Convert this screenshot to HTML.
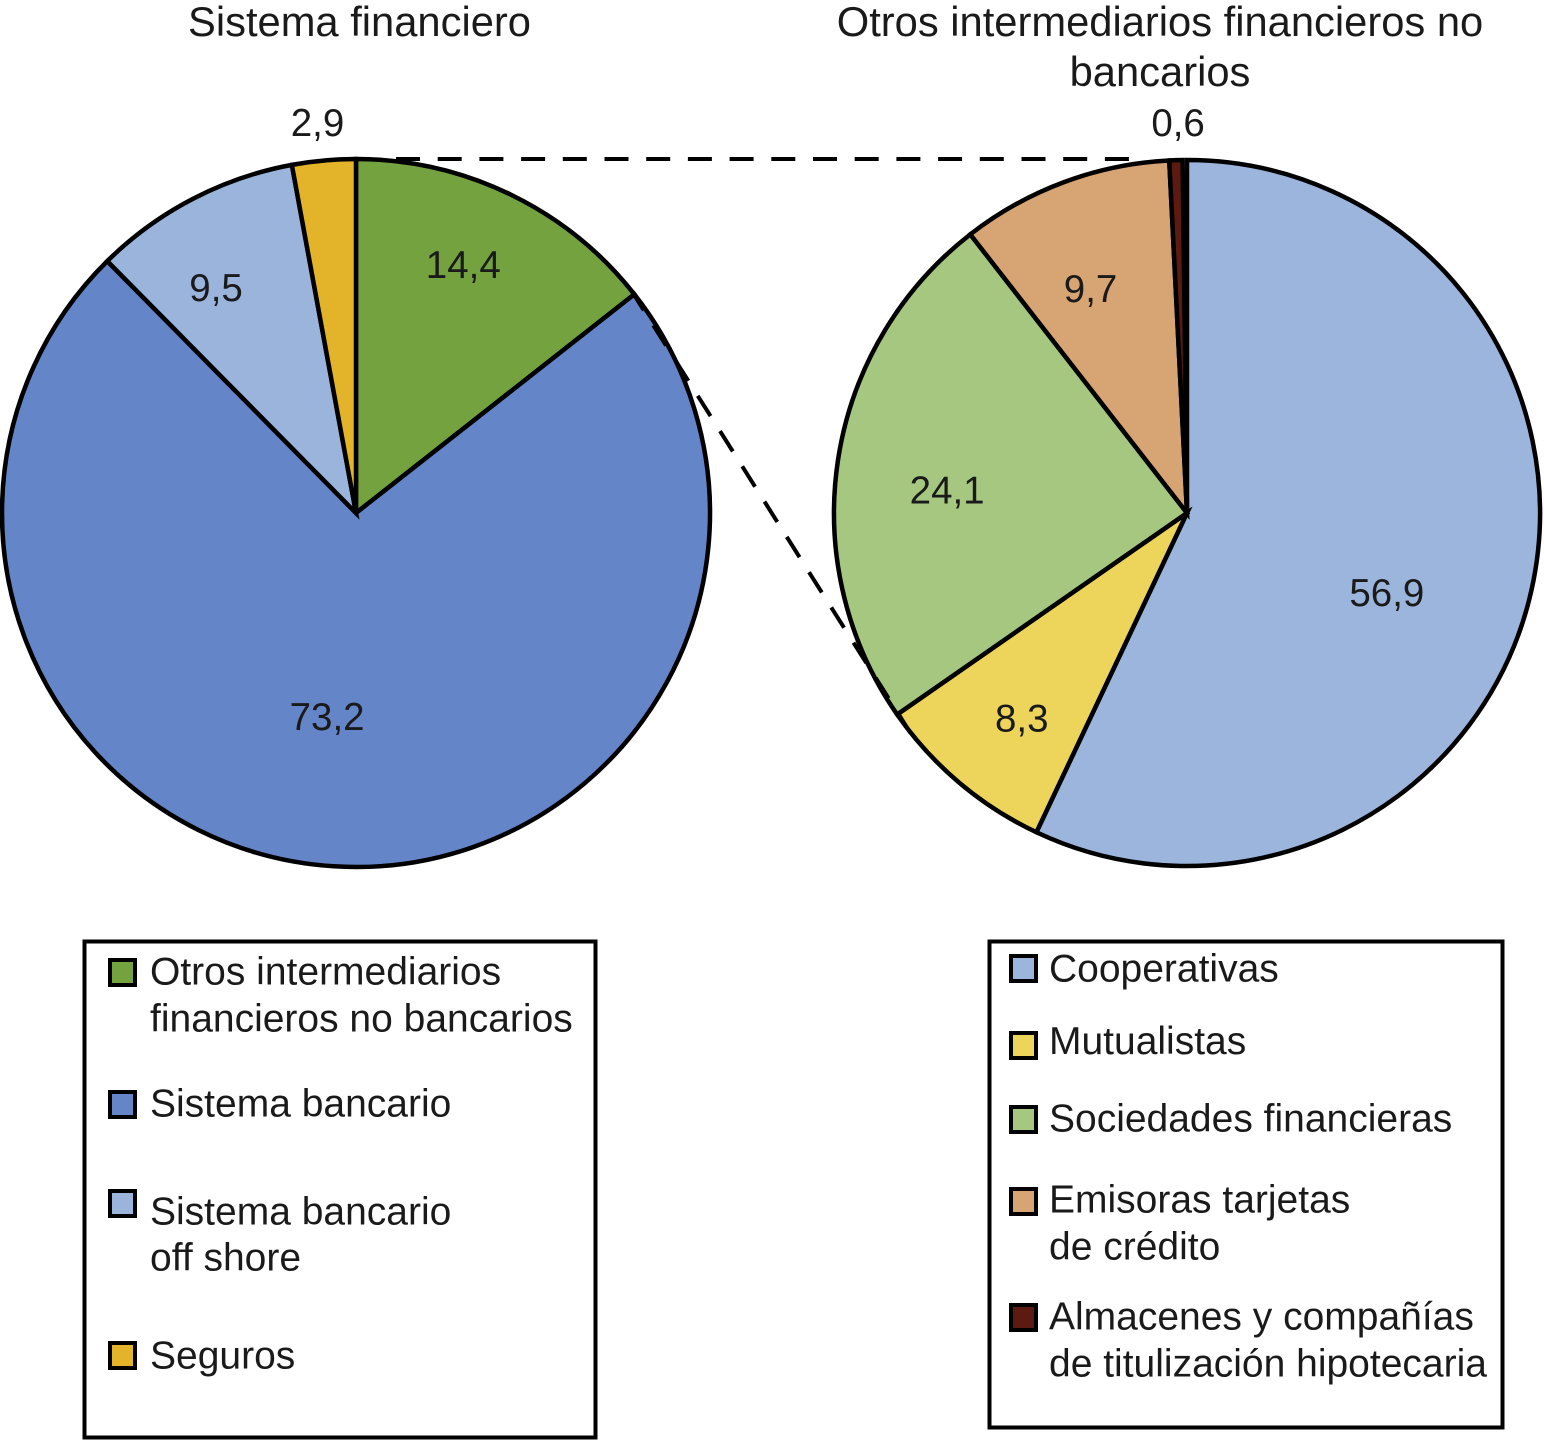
<!DOCTYPE html>
<html lang="es">
<head>
<meta charset="utf-8">
<title>Sistema financiero</title>
<style>
html,body{margin:0;padding:0;background:#fff;}
svg{display:block;}
text{font-family:"Liberation Sans",Arial,sans-serif;fill:#1a1a1a;font-size:39px;}
text.title{font-size:41.7px;}
text.value{font-size:38.5px;}
.legend-box{fill:#fff;stroke:#000;stroke-width:4;}
.swatch{stroke:#000;stroke-width:4;}
</style>
</head>
<body>
<svg id="chart" width="1544" height="1441" viewBox="0 0 1544 1441" xmlns="http://www.w3.org/2000/svg">
  <g id="left-pie"></g>
  <g id="right-pie"></g>
  <line x1="396" y1="159" x2="1130" y2="159" stroke="#000" stroke-width="4" stroke-dasharray="24 17.7"/>
  <line x1="631" y1="290" x2="913" y2="737" stroke="#000" stroke-width="4" stroke-dasharray="24 17.7"/>
  <g id="left-labels"></g>
  <g id="right-labels"></g>

  <text class="title" x="359.5" y="36" text-anchor="middle">Sistema financiero</text>
  <text class="title" x="1160" y="36" text-anchor="middle">Otros intermediarios financieros no</text>
  <text class="title" x="1160" y="86" text-anchor="middle">bancarios</text>

  <g>
    <rect class="legend-box" x="84.5" y="941.5" width="511" height="496"/>
    <g>
      <rect class="swatch" x="110" y="960" width="25" height="25" fill="#74a23f"/>
      <text><tspan x="150" y="984.3">Otros intermediarios</tspan><tspan x="150" y="1031.3">financieros no bancarios</tspan></text>
    </g>
    <g>
      <rect class="swatch" x="110" y="1092" width="25" height="25" fill="#6485c8"/>
      <text x="150" y="1116.3">Sistema bancario</text>
    </g>
    <g>
      <rect class="swatch" x="110" y="1191" width="25" height="25" fill="#9bb4dc"/>
      <text><tspan x="150" y="1224.3">Sistema bancario</tspan><tspan x="150" y="1270.3">off shore</tspan></text>
    </g>
    <g>
      <rect class="swatch" x="110" y="1343" width="25" height="25" fill="#e3b42a"/>
      <text x="150" y="1368.3">Seguros</text>
    </g>
  </g>

  <g>
    <rect class="legend-box" x="989.5" y="941.5" width="513" height="486"/>
    <g>
      <rect class="swatch" x="1011" y="956" width="25" height="25" fill="#9cb5dd"/>
      <text x="1049" y="981.3">Cooperativas</text>
    </g>
    <g>
      <rect class="swatch" x="1011" y="1033" width="25" height="25" fill="#edd45b"/>
      <text x="1049" y="1054">Mutualistas</text>
    </g>
    <g>
      <rect class="swatch" x="1011" y="1107" width="25" height="25" fill="#a6c77f"/>
      <text x="1049" y="1131.3">Sociedades financieras</text>
    </g>
    <g>
      <rect class="swatch" x="1011" y="1189" width="25" height="25" fill="#d7a474"/>
      <text><tspan x="1049" y="1212.3">Emisoras tarjetas</tspan><tspan x="1049" y="1259.3">de crédito</tspan></text>
    </g>
    <g>
      <rect class="swatch" x="1011" y="1305" width="25" height="25" fill="#5c1a10"/>
      <text><tspan x="1049" y="1329.3">Almacenes y compañías</tspan><tspan x="1049" y="1376.3">de titulización hipotecaria</tspan></text>
    </g>
  </g>
</svg>
<script>
const leftCategories = ['otros-intermediarios', 'sistema-bancario', 'sistema-bancario-off-shore', 'seguros'];
const leftValues = [14.4, 73.2, 9.5, 2.9];
const leftColors = ['#74a23f', '#6485c8', '#9bb4dc', '#e3b42a'];

const rightCategories = ['cooperativas', 'mutualistas', 'sociedades-financieras', 'emisoras-tarjetas', 'almacenes-titulizacion'];
const rightValues = [56.9, 8.3, 24.1, 9.7, 0.6];
const rightColors = ['#9cb5dd', '#edd45b', '#a6c77f', '#d7a474', '#5c1a10'];

const SVG_NS = 'http://www.w3.org/2000/svg';

function polar(pie, deg, radius) {
  const a = deg * Math.PI / 180;
  return [pie.cx + radius * Math.sin(a), pie.cy - radius * Math.cos(a)];
}
function angleOf(pie, v) {
  return v / pie.total * 360;
}
function drawPie(pie, categories, values, colors) {
  let cumulative = 0;
  values.forEach(function (v, i) {
    const a0 = angleOf(pie, cumulative);
    const a1 = angleOf(pie, cumulative + v);
    const mid = (a0 + a1) / 2;
    const p0 = polar(pie, a0, pie.r);
    const p1 = polar(pie, a1, pie.r);
    const large = a1 - a0 > 180 ? 1 : 0;
    const slice = document.createElementNS(SVG_NS, 'path');
    slice.setAttribute('d', 'M' + pie.cx + ' ' + pie.cy + 'L' + p0[0] + ' ' + p0[1] + 'A' + pie.r + ' ' + pie.r + ' 0 ' + large + ' 1 ' + p1[0] + ' ' + p1[1] + 'Z');
    slice.setAttribute('fill', colors[i]);
    slice.setAttribute('stroke', '#000');
    slice.setAttribute('stroke-width', '4.5');
    slice.setAttribute('stroke-linejoin', 'miter');
    
    
    pie.sliceLayer.appendChild(slice);

    const pos = polar(pie, mid + pie.labelNudge[i], pie.labelRadius[i]);
    const label = document.createElementNS(SVG_NS, 'text');
    label.setAttribute('class', 'value');
    label.setAttribute('x', pos[0]);
    label.setAttribute('y', pos[1] + 14);
    label.setAttribute('text-anchor', 'middle');
    
    
    label.textContent = v.toFixed(1).replace('.', ',');
    pie.labelLayer.appendChild(label);

    cumulative += v;
  });
}

drawPie({
  cx: 356, cy: 513, r: 354, total: 100,
  sliceLayer: document.getElementById('left-pie'),
  labelLayer: document.getElementById('left-labels'),
  labelRadius: [271, 205, 266, 393],
  labelNudge: [-2.6, 4.5, -4.2, -0.4]
}, leftCategories, leftValues, leftColors);

drawPie({
  cx: 1187, cy: 513, r: 353, total: 99.8,
  sliceLayer: document.getElementById('right-pie'),
  labelLayer: document.getElementById('right-labels'),
  labelRadius: [215, 263, 241, 245, 391],
  labelNudge: [9.0, -1.3, -3.1, -2.8, 0.5]
}, rightCategories, rightValues, rightColors);
</script>
</body>
</html>
